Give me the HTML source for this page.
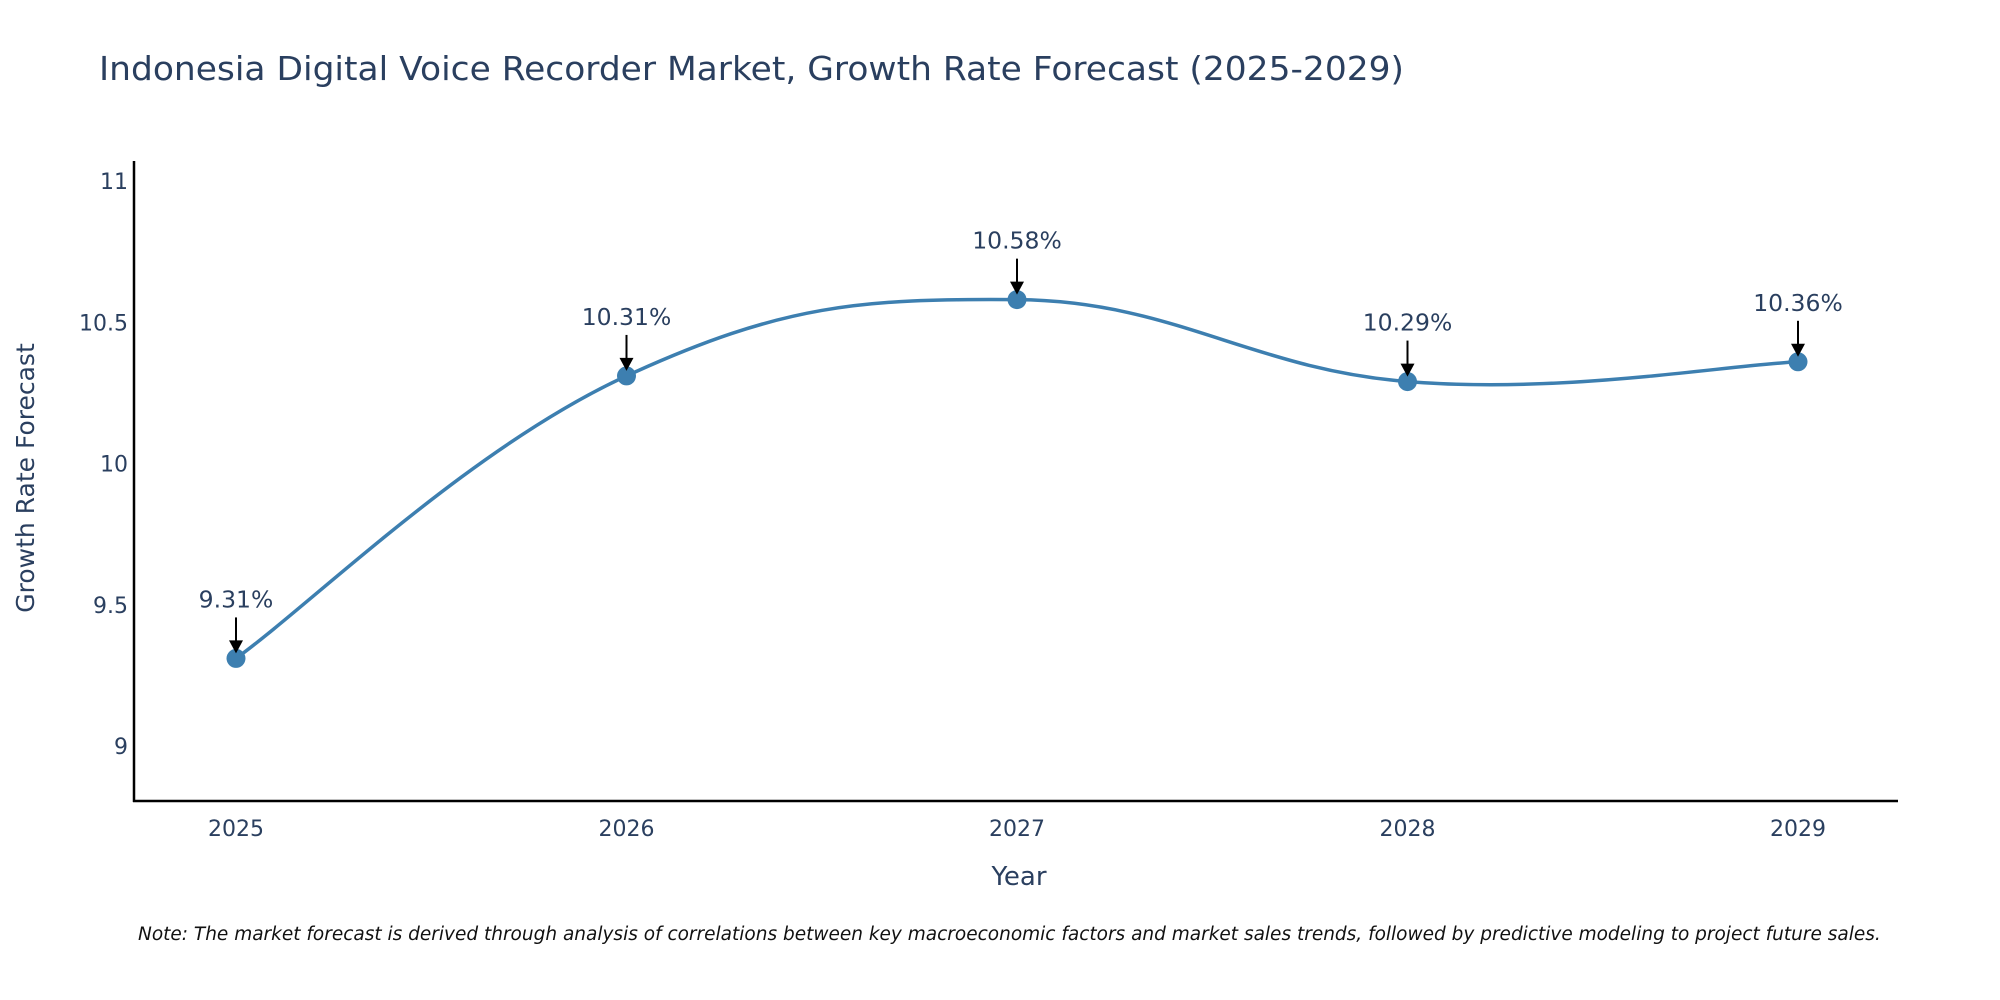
<!DOCTYPE html>
<html><head><meta charset="utf-8"><style>
html,body{margin:0;padding:0;background:#fff;}
svg{display:block;font-family:"DejaVu Sans","Liberation Sans",sans-serif;}
</style></head><body>
<svg id="chart" width="2000" height="1000" viewBox="0 0 2000 1000">
<text x="99" y="80" font-size="33" fill="#2a3f5f" textLength="1305" lengthAdjust="spacingAndGlyphs">Indonesia Digital Voice Recorder Market, Growth Rate Forecast (2025-2029)</text>
<g id="yticks"></g>
<g id="xticks"></g>
<line x1="134" y1="161" x2="134" y2="802" stroke="#000" stroke-width="2.5"/>
<line x1="133" y1="801" x2="1898" y2="801" stroke="#000" stroke-width="2.5"/>
<path id="line" fill="none" stroke="#3d7fb0" stroke-width="3.5"/>
<g id="points"></g>
<g id="annots"></g>
<text x="1019" y="885" font-size="26" fill="#2a3f5f" text-anchor="middle">Year</text>
<text transform="translate(34,478) rotate(-90)" font-size="25" fill="#2a3f5f" text-anchor="middle">Growth Rate Forecast</text>
<text x="138" y="940" font-size="18.5" font-style="italic" fill="#111">Note: The market forecast is derived through analysis of correlations between key macroeconomic factors and market sales trends, followed by predictive modeling to project future sales.</text>
</svg>
<script>
const categories = ["2025","2026","2027","2028","2029"];
const values = [9.31, 10.31, 10.58, 10.29, 10.36];
const labels = ["9.31%","10.31%","10.58%","10.29%","10.36%"];
const yTicks = [9, 9.5, 10, 10.5, 11];
const yTickLabels = ["9","9.5","10","10.5","11"];
const NS="http://www.w3.org/2000/svg";
function xs(i){return 236+i*(1798-236)/(categories.length-1);}
function ys(v){return 746-(v-9)*282.5;}
function mk(tag,attrs,parent){const e=document.createElementNS(NS,tag);for(const k in attrs)e.setAttribute(k,attrs[k]);parent.appendChild(e);return e;}
const yt=document.getElementById('yticks');
yTicks.forEach((t,i)=>{const e=mk('text',{x:128,y:ys(t)+8,'font-size':22,fill:'#2a3f5f','text-anchor':'end'},yt);e.textContent=yTickLabels[i];

});
const xt=document.getElementById('xticks');
categories.forEach((c,i)=>{const e=mk('text',{x:xs(i),y:836,'font-size':22,fill:'#2a3f5f','text-anchor':'middle'},xt);e.textContent=c;

});
const P=values.map((v,i)=>[xs(i),ys(v)]);
let d=`M${P[0][0]},${P[0][1]}`;const s=0.2;
for(let i=0;i<P.length-1;i++){const p0=P[Math.max(i-1,0)],p1=P[i],p2=P[i+1],p3=P[Math.min(i+2,P.length-1)];
const c1=[p1[0]+(p2[0]-p0[0])*s,p1[1]+(p2[1]-p0[1])*s],c2=[p2[0]-(p3[0]-p1[0])*s,p2[1]-(p3[1]-p1[1])*s];
d+=` C${c1[0]},${c1[1]} ${c2[0]},${c2[1]} ${p2[0]},${p2[1]}`;}
document.getElementById('line').setAttribute('d',d);
const pg=document.getElementById('points'),ag=document.getElementById('annots');
P.forEach((p,i)=>{const c=mk('circle',{cx:p[0],cy:p[1],r:9.5,fill:'#3d7fb0'},pg);


const l=mk('line',{x1:p[0],y1:p[1]-41,x2:p[0],y2:p[1]-16,stroke:'#000','stroke-width':2},ag);


const h=mk('polygon',{points:`${p[0]-7},${p[1]-18} ${p[0]+7},${p[1]-18} ${p[0]},${p[1]-5}`,fill:'#000'},ag);


const t=mk('text',{x:p[0],y:p[1]-51,'font-size':23.5,fill:'#2a3f5f','text-anchor':'middle'},ag);t.textContent=labels[i];

});
</script>
</body></html>
